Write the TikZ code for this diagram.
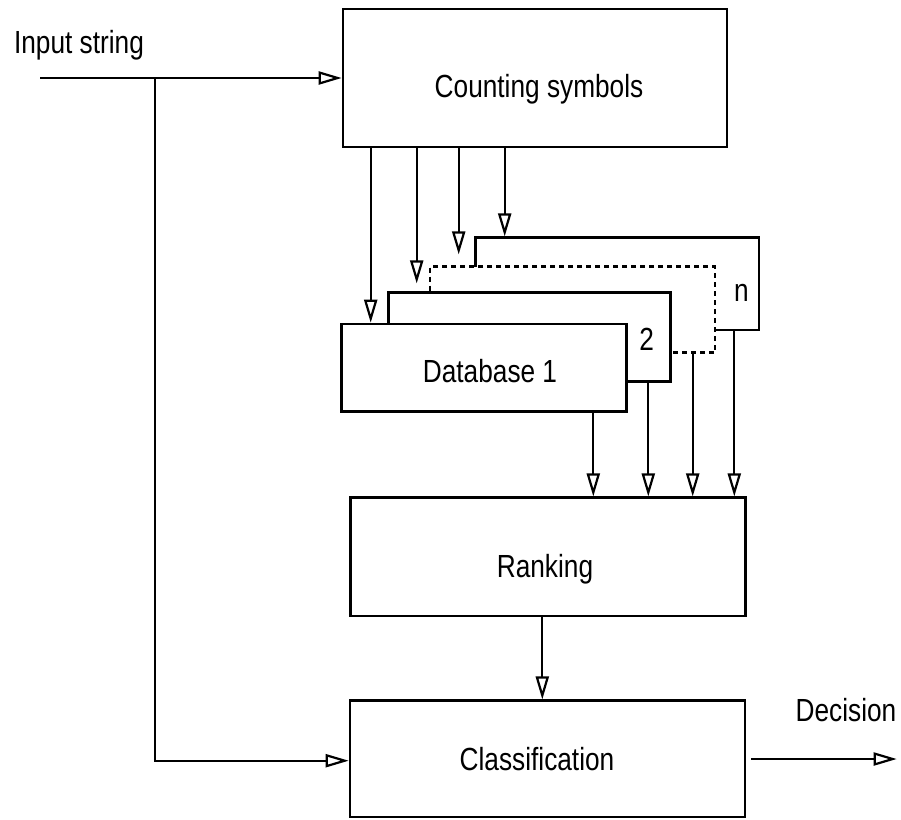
\documentclass[tikz,border=0pt]{standalone}
\usepackage{fontspec}
\setmainfont{Liberation Sans}[FakeStretch=0.82]
\usetikzlibrary{arrows.meta}
\begin{document}
\begin{tikzpicture}[x=1pt,y=-1pt,
  box/.style={draw, line width=2.6pt, fill=white, inner sep=0pt},
  arr/.style={line width=2.2pt, -{Triangle[open, length=23pt, width=13pt, line width=2.2pt]}},
  txt/.style={anchor=base, inner sep=0pt, font=\fontsize{32}{38}\selectfont},
  dashbox/.style={draw, line width=2.6pt, dash pattern=on 5pt off 4pt, fill=white, inner sep=0pt}]
\useasboundingbox (0,0) rectangle (901,819);

% main boxes
\node[box, minimum width=384pt, minimum height=138pt] (count) at (535,78) {};
\node[txt] (countT) at (539,97) {Counting symbols};

\node[box, minimum width=395pt, minimum height=118.3pt] (rank) at (548.2,556.9) {};
\node[txt] (rankT) at (545,577) {Ranking};

\node[box, minimum width=395pt, minimum height=116.3pt] (cls) at (547.5,758.9) {};
\node[txt] (clsT) at (537,770) {Classification};

% database stack (back to front)
\node[box, minimum width=283.3pt, minimum height=92.3pt] (dbn) at (617.35,283.85) {};
\node[txt] (nT) at (741.5,301.5) {n};
\node[dashbox, minimum width=285pt, minimum height=86pt] (dbd) at (572.5,309.7) {};
\node[box, minimum width=282.4pt, minimum height=89pt] (db2) at (529.5,337.2) {};
\node[txt] (twoT) at (646.7,350) {2};
\node[box, minimum width=285pt, minimum height=87.7pt] (db1) at (484.2,367.85) {};
\node[txt] (db1T) at (490,382) {Database 1};

% column coordinates
\coordinate (a1) at (370.7,0);
\coordinate (a2) at (416.7,0);
\coordinate (a3) at (458.7,0);
\coordinate (a4) at (504.7,0);
\coordinate (b1) at (593.3,0);
\coordinate (b2) at (648.3,0);
\coordinate (b3) at (692.7,0);
\coordinate (b4) at (734.3,0);
\coordinate (rc) at (542.3,0);

% arrows counting -> databases
\draw[arr] (count.south -| a1) -- (db1.north -| a1);
\draw[arr, shorten >=8pt] (count.south -| a2) -- (db2.north -| a2);
\draw[arr, shorten >=11pt] (count.south -| a3) -- (dbd.north -| a3);
\draw[arr] (count.south -| a4) -- (dbn.north -| a4);

% arrows databases -> ranking
\draw[arr] (db1.south -| b1) -- (rank.north -| b1);
\draw[arr] (db2.south -| b2) -- (rank.north -| b2);
\draw[arr] (dbd.south -| b3) -- (rank.north -| b3);
\draw[arr] (dbn.south -| b4) -- (rank.north -| b4);

% ranking -> classification
\draw[arr] (rank.south -| rc) -- (cls.north -| rc);

% input
\coordinate (in) at (40,78);
\coordinate (br) at (155,78);
\node[txt] (inT) at (79,53) {Input string};
\draw[arr] (in) -- (count.west |- in);
\draw[arr] (br) |- (cls.west |- 0,760.7);

% decision
\coordinate (out) at (896.7,759);
\node[txt] (decT) at (846,721.7) {Decision};
\draw[arr, shorten <=5pt] (cls.east |- out) -- (out);
\end{tikzpicture}
\end{document}
